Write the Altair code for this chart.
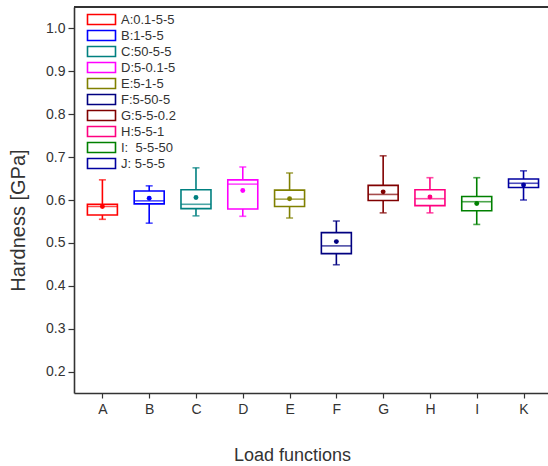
import json
import altair as alt
import pandas as pd

categories = ["A", "B", "C", "D", "E", "F", "G", "H", "I", "K"]
legend_labels = ["A:0.1-5-5", "B:1-5-5", "C:50-5-5", "D:5-0.1-5", "E:5-1-5",
                 "F:5-50-5", "G:5-5-0.2", "H:5-5-1", "I:\u00a0\u00a05-5-50", "J:\u00a05-5-5"]
colors = ["#FF0000", "#0000FF", "#008080", "#FF00FF", "#808000",
          "#000080", "#800000", "#FF0080", "#008000", "#0000A0"]
whisker_low = [0.555, 0.546, 0.563, 0.562, 0.558, 0.449, 0.570, 0.570, 0.543, 0.600]
q1 = [0.565, 0.591, 0.580, 0.579, 0.585, 0.475, 0.599, 0.587, 0.575, 0.629]
median = [0.585, 0.598, 0.590, 0.637, 0.602, 0.493, 0.613, 0.603, 0.596, 0.639]
q3 = [0.590, 0.621, 0.624, 0.647, 0.623, 0.524, 0.634, 0.624, 0.608, 0.649]
whisker_high = [0.647, 0.633, 0.675, 0.677, 0.663, 0.551, 0.703, 0.652, 0.652, 0.668]
mean = [0.585, 0.604, 0.606, 0.622, 0.603, 0.503, 0.619, 0.607, 0.592, 0.635]

df = pd.DataFrame({
    "idx": list(range(len(categories))),
    "cat": categories,
    "label": legend_labels,
    "lo": whisker_low, "q1": q1, "med": median, "q3": q3, "hi": whisker_high, "mean": mean,
})

FONT = "Liberation Sans"
AX = "#333333"
SW = 1.6

x_enc = alt.X("idx:Q",
              scale=alt.Scale(domain=[-0.5, 9.416], nice=False, zero=False),
              axis=alt.Axis(values=list(range(len(categories))),
                            labelExpr=json.dumps(categories) + "[datum.value]",
                            title="Load functions", grid=False,
                            tickSize=5, tickColor=AX, tickWidth=1.2,
                            domainColor=AX, domainWidth=1.6,
                            labelFont=FONT, labelFontSize=14, labelColor=AX, labelPadding=4,
                            titleFont=FONT, titleFontSize=18, titleFontWeight="normal",
                            titleColor=AX, titleX=218, titleY=62, titleBaseline="middle"))

yvals = [round(0.2 + 0.05 * i, 2) for i in range(17)]
y_scale = alt.Scale(domain=[0.15, 1.05], nice=False, zero=False)
y_axis = alt.Axis(values=yvals,
                  labelExpr="round(datum.value*100) % 10 == 0 ? format(datum.value, '.1f') : ''",
                  tickSize={"condition": {"test": "round(datum.value*100) % 10 == 0", "value": 6}, "value": 3},
                  title="Hardness [GPa]", grid=False, tickColor=AX, tickWidth=1.2,
                  domainColor=AX, domainWidth=1.6,
                  labelFont=FONT, labelFontSize=14, labelColor=AX, labelPadding=3,
                  titleFont=FONT, titleFontSize=20, titleFontWeight="normal", titleColor=AX,
                  titleX=-56, titleY=213, titleAngle=270, titleAlign="center",
                  titleBaseline="middle")

cscale = alt.Scale(domain=legend_labels, range=colors)
cat_scale = alt.Scale(domain=categories, range=colors)
legend = alt.Legend(title=None, orient="none", legendX=21, legendY=6,
                    symbolType="M-2.8,-1H2.8V1H-2.8Z", symbolSize=100,
                    symbolStrokeWidth=SW, symbolFillColor="white",
                    labelFont=FONT, labelFontSize=13, labelColor=AX,
                    labelOffset=13, rowPadding=-1, padding=0)
color_legend = alt.Color("label:N", scale=cscale, legend=legend)
fill_plain = alt.Fill("cat:N", scale=cat_scale, legend=None)
stroke_plain = alt.Stroke("cat:N", scale=cat_scale, legend=None)

base = alt.Chart(df)

top_line = base.mark_rule(color=AX, strokeWidth=1.6).encode(y=alt.datum(1.05))

whisk = base.mark_rule(strokeWidth=SW).encode(
    x=x_enc, y=alt.Y("lo:Q", scale=y_scale, axis=y_axis), y2="hi:Q", color=color_legend)

box = base.mark_bar(size=30, fill="white", strokeWidth=SW, orient="vertical").encode(
    x="idx:Q", y="q1:Q", y2="q3:Q", stroke=stroke_plain)

med = base.mark_tick(orient="horizontal", size=30, thickness=SW).encode(
    x="idx:Q", y="med:Q", fill=fill_plain)

cap_lo = base.mark_tick(orient="horizontal", size=7, thickness=SW).encode(
    x="idx:Q", y="lo:Q", fill=fill_plain)
cap_hi = base.mark_tick(orient="horizontal", size=7, thickness=SW).encode(
    x="idx:Q", y="hi:Q", fill=fill_plain)

mpt = base.mark_circle(size=24, opacity=1).encode(
    x="idx:Q", y="mean:Q", fill=fill_plain)

chart = alt.layer(whisk, box, med, cap_lo, cap_hi, mpt, top_line).properties(
    width=474, height=386,
    autosize=alt.AutoSizeParams(type="none"),
    padding={"left": 74, "top": 7, "right": 0, "bottom": 73},
    background="white",
).configure_view(stroke=None)

chart.save("out.html", embed_options={"renderer": "svg", "actions": False})
